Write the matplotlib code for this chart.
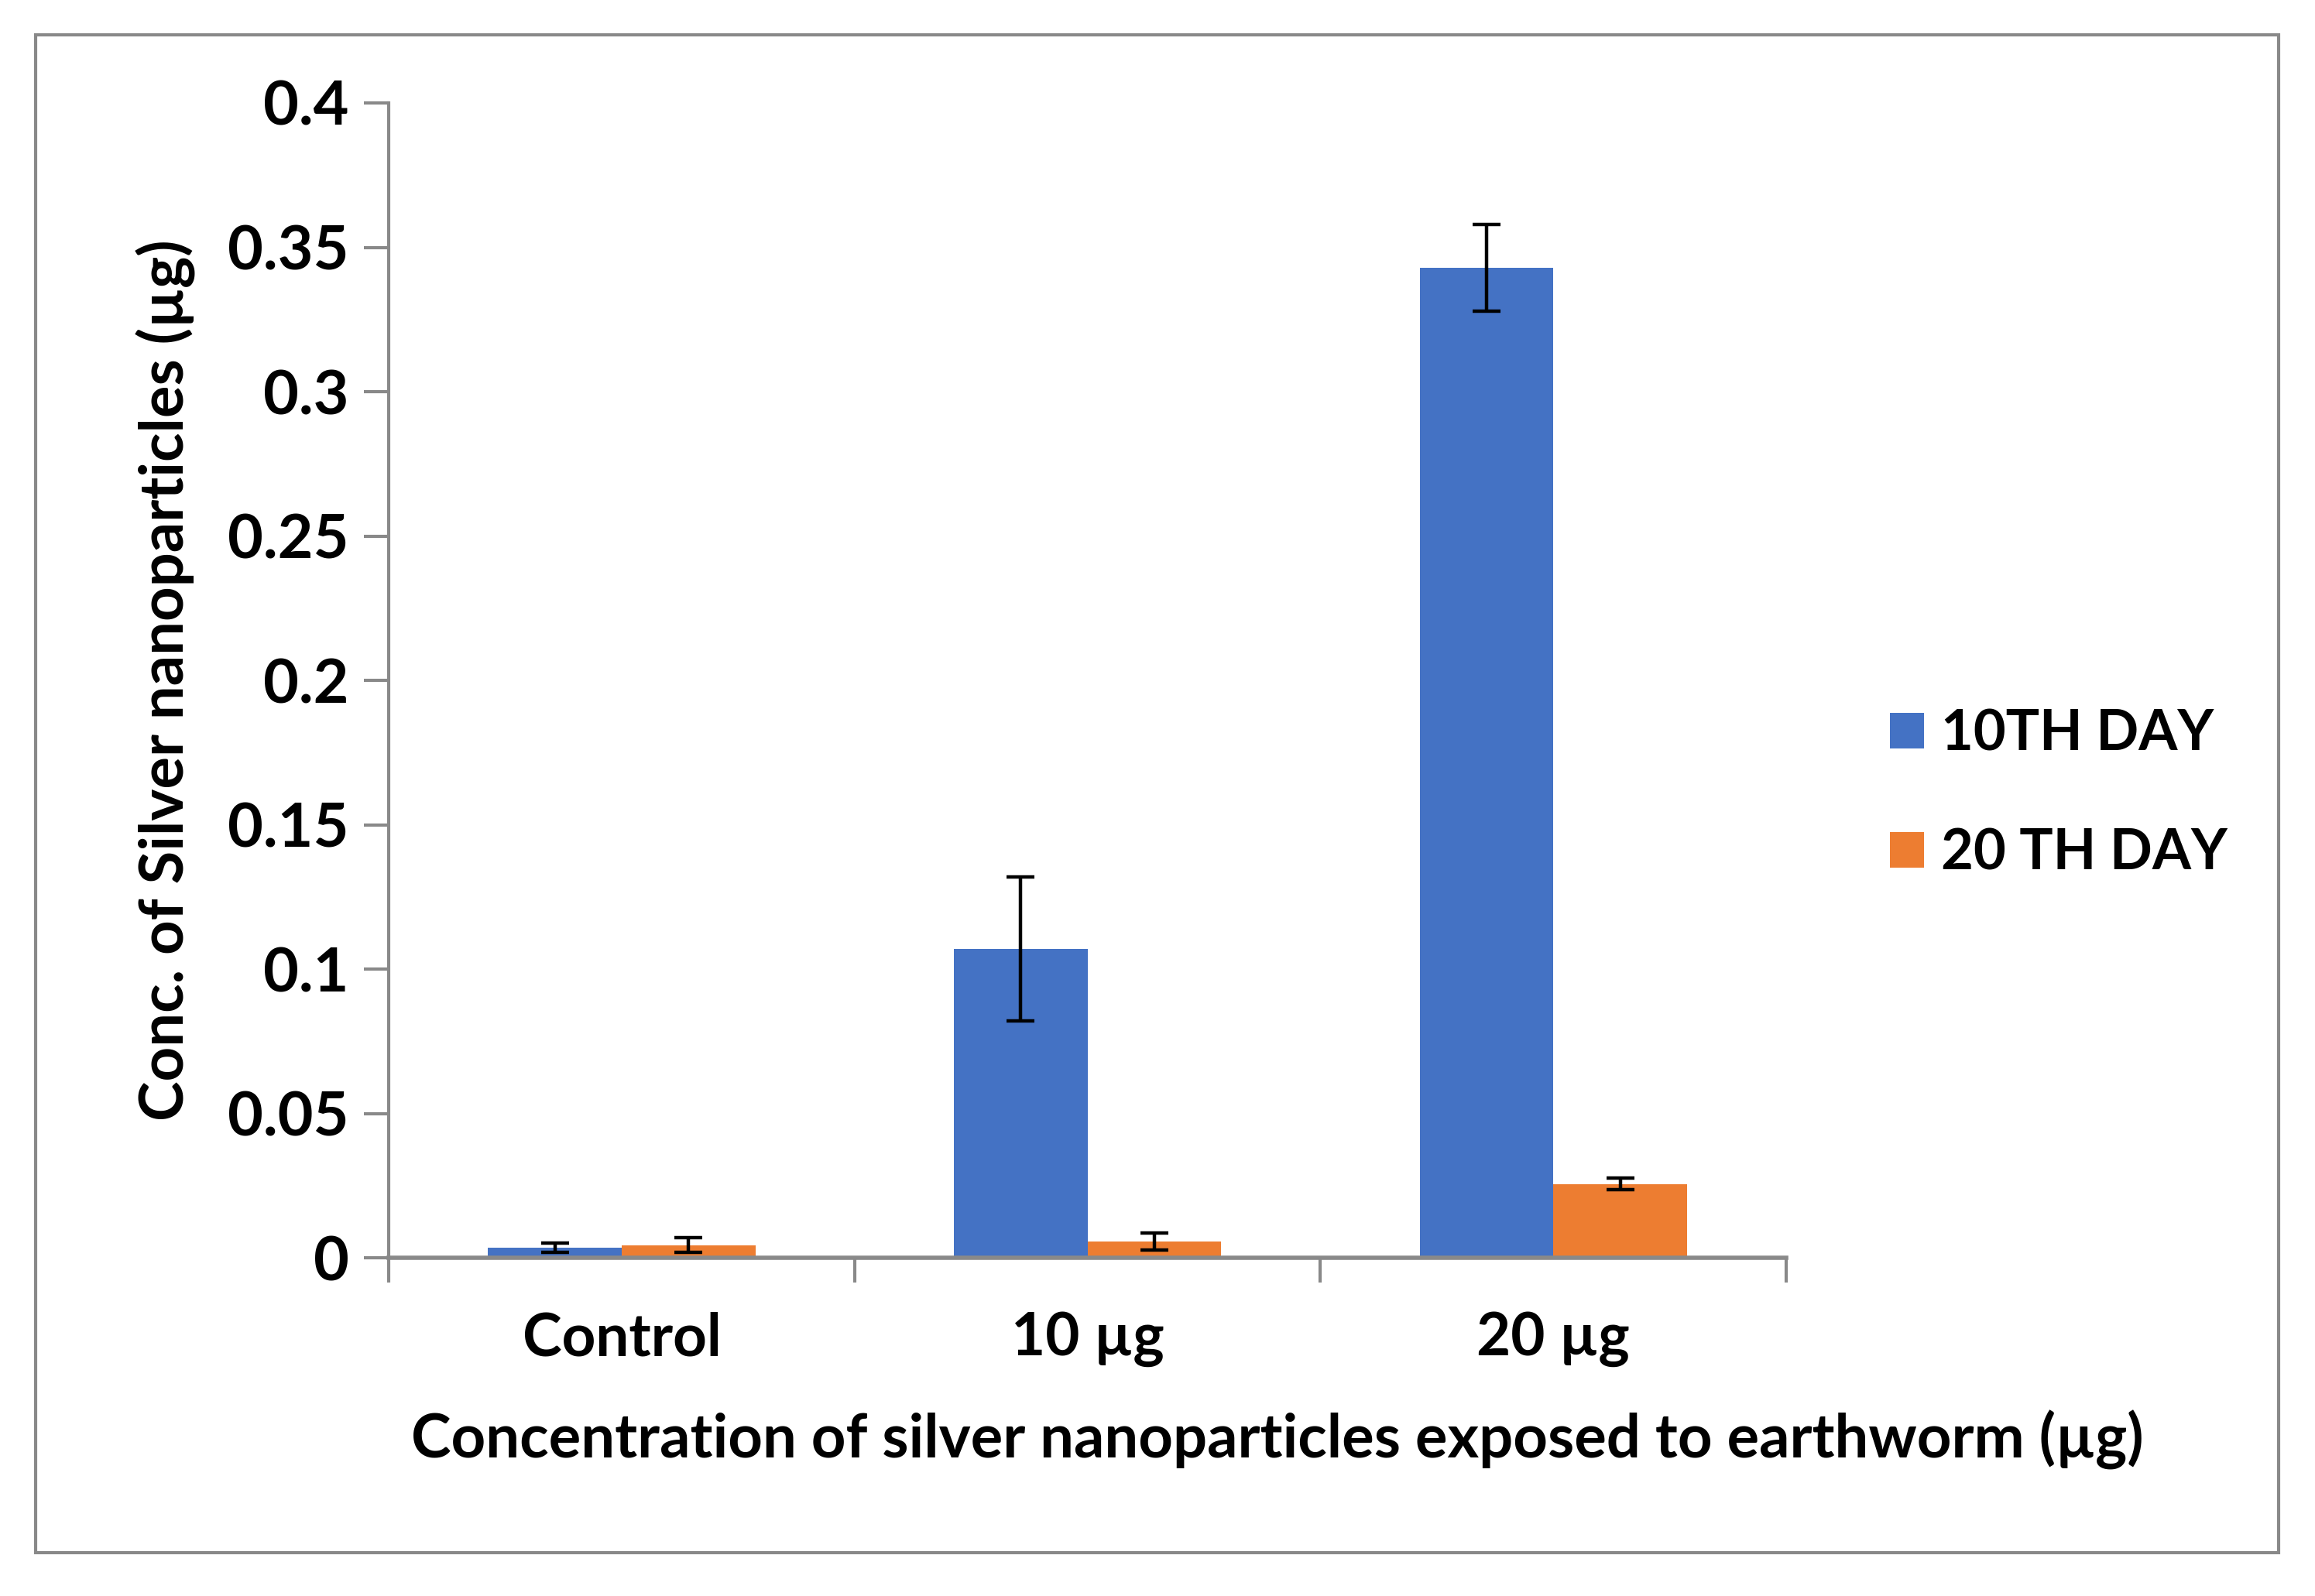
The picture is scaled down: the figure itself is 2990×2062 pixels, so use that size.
import numpy as np
import matplotlib
matplotlib.use("Agg")
import matplotlib.pyplot as plt
from matplotlib.patches import Rectangle

# Data
categories = ["Control", "10 µg", "20 µg"]
day10 = [0.0035, 0.107, 0.343]
day10_err = [0.0015, 0.025, 0.015]
day20 = [0.0044, 0.0056, 0.0255]
day20_err = [0.0025, 0.003, 0.002]
series_names = ["10TH DAY", "20 TH DAY"]

BLUE = "#4472C4"
ORANGE = "#ED7D31"
GRAY = "#898989"

plt.rcParams['font.family'] = ['Lato', 'DejaVu Sans']
plt.rcParams['font.weight'] = 'bold'

fig = plt.figure(figsize=(29.9, 20.62), dpi=100)
ax = fig.add_axes([0.168, 0.2119, 0.6036, 0.7236])

x = np.arange(len(categories))
w = 0.287
err_kw = dict(ecolor="black", elinewidth=3.2, capsize=13, capthick=3.2)
ax.bar(x - w / 2, day10, w, yerr=day10_err, color=BLUE, label=series_names[0], error_kw=err_kw, zorder=2)
ax.bar(x + w / 2, day20, w, yerr=day20_err, color=ORANGE, label=series_names[1], error_kw=err_kw, zorder=2)

ax.set_xlim(-0.5, 2.5)
ax.set_ylim(0, 0.4)
ax.set_yticks(np.arange(0, 0.401, 0.05))
ax.set_yticklabels(["0", "0.05", "0.1", "0.15", "0.2", "0.25", "0.3", "0.35", "0.4"])

ax.set_xticks(x)
ax.set_xticklabels(categories)
ax.set_xticks([-0.5, 0.5, 1.5, 2.5], minor=True)
ax.tick_params(axis='x', which='major', length=0, pad=50, labelsize=55)
ax.tick_params(axis='x', which='minor', length=23, width=3, color=GRAY)
ax.tick_params(axis='y', length=23, width=3, color=GRAY, pad=14, labelsize=57)

for s in ["top", "right"]:
    ax.spines[s].set_visible(False)
ax.spines["left"].set_color(GRAY)
ax.spines["left"].set_linewidth(3)
ax.spines["bottom"].set_color(GRAY)
ax.spines["bottom"].set_linewidth(4)

ax.set_xlabel("Concentration of silver nanoparticles exposed to earthworm (µg)", fontsize=56, fontweight='bold')
ax.xaxis.set_label_coords(0.636, -0.132)
ax.set_ylabel("Conc. of Silver nanoparticles (µg)", fontsize=56, fontweight='bold', labelpad=30)

leg = ax.legend(loc='center left', bbox_to_anchor=(0.8164, 0.5024), bbox_transform=fig.transFigure,
                frameon=False, fontsize=52, handlelength=0.61, handleheight=0.61,
                handletextpad=0.3, labelspacing=1.2, borderpad=0, borderaxespad=0)

# outer frame
fig.patches.append(Rectangle((0.0154, 0.027), 0.969, 0.951, transform=fig.transFigure,
                             fill=False, edgecolor=GRAY, linewidth=3))

fig.savefig("out.png", dpi=100)
